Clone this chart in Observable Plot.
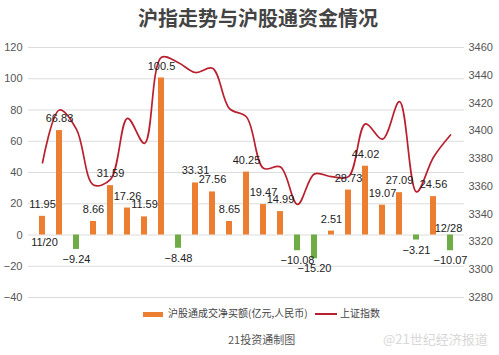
<!DOCTYPE html>
<html><head><meta charset="utf-8">
<script src="https://cdn.jsdelivr.net/npm/d3@7"></script>
<script src="https://cdn.jsdelivr.net/npm/@observablehq/plot@0.6"></script>
<style>
html,body{margin:0;padding:0;background:#fff;}
#wrap{position:relative;width:499px;height:355px;overflow:hidden;font-family:"Liberation Sans",Arial,"Noto Sans CJK SC",sans-serif;}
.ov{position:absolute;white-space:nowrap;}
</style>
</head><body>
<div id="wrap"></div>
<script>
// ---- data ----
const days = d3.range(25); // 25 trading days, 11/20 .. 12/28
const dateLabels = ["11/20", "12/28"];
const flows = [11.95, 66.83, -9.24, 8.66, 31.59, 17.26, 11.59, 100.5, -8.48, 33.31, 27.56, 8.65, 40.25, 19.47, 14.99, -10.08, -15.20, 2.51, 28.73, 44.02, 19.07, 27.09, -3.21, 24.56, -10.07];
const flowText = ["11.95","66.83","−9.24","8.66","31.59","17.26","11.59","100.5","−8.48","33.31","27.56","8.65","40.25","19.47","14.99","−10.08","−15.20","2.51","28.73","44.02","19.07","27.09","−3.21","24.56","−10.07"];
const shIndex = [3377, 3415, 3401, 3361, 3365, 3409, 3391, 3453, 3449, 3442, 3445, 3416, 3410, 3373, 3374, 3347, 3369, 3367, 3367, 3405, 3394, 3421, 3356, 3381, 3397];
const leftTicks = [120, 100, 80, 60, 40, 20, 0, -20, -40];
const rightTicks = [3460, 3440, 3420, 3400, 3380, 3360, 3340, 3320, 3300, 3280];

// map right-axis values onto the left-axis scale domain
const toLeft = v => 120 - (3460 - v) * 160 / 180;
const fromLeft = l => 3460 - (120 - l) * 180 / 160;

const rows = days.map((d, i) => ({day: d, flow: flows[i], label: flowText[i], idx: shIndex[i], idxL: toLeft(shIndex[i])}));
const ends = [{day: days[0], text: dateLabels[0], pos: true}, {day: days[days.length - 1], text: dateLabels[1], pos: false}];

const orange = "#ec7e32", green = "#6fac46", red = "#b8202f";

const chart = Plot.plot({
  width: 499, height: 355,
  marginTop: 47, marginBottom: 58, marginLeft: 28, marginRight: 35,
  style: {fontFamily: "'Liberation Sans', Arial, sans-serif", fontSize: "11px", background: "transparent", color: "#333"},
  x: {type: "band", domain: days, padding: 0.62, axis: null},
  y: {domain: [-40, 120], axis: null},
  marks: [
    Plot.gridY(leftTicks, {stroke: "#dcdcdc", strokeOpacity: 1}),
    Plot.axisY(leftTicks, {anchor: "left", tickSize: 0, tickPadding: 6, fill: "#555", fontSize: 11}),
    Plot.axisY(rightTicks.map(toLeft), {anchor: "right", tickSize: 0, tickPadding: 4, fill: "#555", fontSize: 11, tickFormat: d => String(Math.round(fromLeft(d)))}),
    Plot.barY(rows, {x: "day", y: "flow", fill: d => d.flow >= 0 ? orange : green}),
    Plot.line(rows, {x: "day", y: "idxL", stroke: red, strokeWidth: 1.7, curve: "catmull-rom"}),
    Plot.text(rows.filter(d => d.flow >= 0), {x: "day", y: "flow", text: "label", dy: -12, fill: "#222", fontSize: 11}),
    Plot.text(rows.filter(d => d.flow < 0), {x: "day", y: "flow", text: "label", dy: 10, fill: "#222", fontSize: 11}),
    Plot.text(ends.filter(d => d.pos), {x: "day", y: 0, text: "text", dy: 7, dx: 2, fill: "#222", fontSize: 11}),
    Plot.text(ends.filter(d => !d.pos), {x: "day", y: 0, text: "text", dy: -7, dx: -2, fill: "#222", fontSize: 11})
  ]
});
const wrap = document.getElementById("wrap");
chart.style.position = "absolute"; chart.style.left = "0"; chart.style.top = "0";
wrap.appendChild(chart);

function ov(html, left, cy, size, lh, extra) {
  const d = document.createElement("div");
  d.className = "ov";
  d.style.left = left + "px";
  d.style.top = (cy - lh / 2) + "px";
  d.style.fontSize = size + "px";
  d.style.lineHeight = lh + "px";
  d.style.cssText += extra || "";
  d.innerHTML = html;
  wrap.appendChild(d);
}
ov("沪指走势与沪股通资金情况", 138, 18, 20, 24, "font-family:'Noto Sans CJK SC',sans-serif;font-weight:bold;color:#444;");
ov('<span style="display:inline-block;width:20px;height:5px;background:' + orange + ';vertical-align:middle;margin-right:5px"></span>沪股通成交净买额(亿元,人民币)', 143, 313, 10, 14, "font-family:'Noto Sans CJK SC',sans-serif;color:#444;");
ov('<span style="display:inline-block;width:22px;height:2px;background:' + red + ';vertical-align:middle;margin-right:3px"></span>上证指数', 315, 313, 10, 14, "font-family:'Noto Sans CJK SC',sans-serif;color:#444;");
ov("21投资通制图", 228, 339, 11, 14, "font-family:'Noto Sans CJK SC',sans-serif;color:#555;");
ov("@21世纪经济报道", 383, 339, 13, 16, "font-family:'Noto Sans CJK SC',sans-serif;color:#d8d8d8;");
</script>
</body></html>
